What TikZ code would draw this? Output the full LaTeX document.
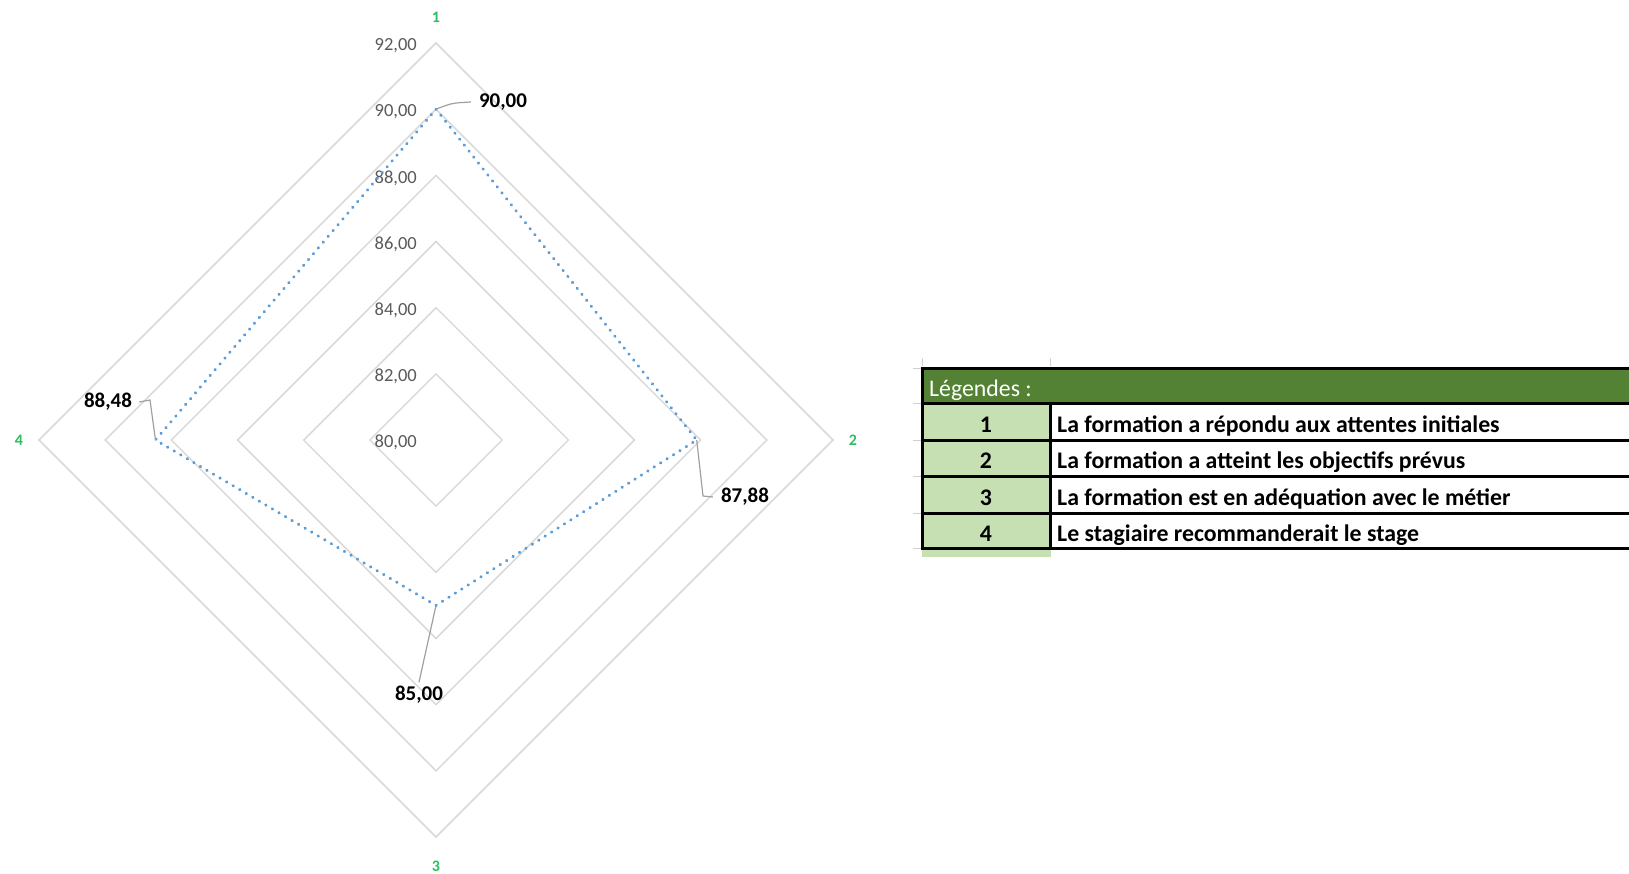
\documentclass[tikz,border=0pt]{standalone}
\usepackage{fontspec}
\setmainfont{Carlito}
\definecolor{gridc}{HTML}{D9D9D9}
\definecolor{seriesc}{HTML}{5B9BD5}
\definecolor{catc}{HTML}{2DBE60}
\definecolor{axlabc}{HTML}{595959}
\definecolor{leadc}{HTML}{A0A0A0}
\definecolor{hdrc}{HTML}{548235}
\definecolor{cellc}{HTML}{C6E0B4}
\definecolor{tickc}{HTML}{D0D0D0}
\tikzset{
  ring/.style={draw=gridc, line width=1.5pt},
  serie/.style={draw=seriesc, line width=3.1pt, line cap=round, dash pattern=on 0.4pt off 7.2pt},
  axlab/.style={anchor=east, inner sep=0pt, text=axlabc, font=\fontsize{18.5}{22}\selectfont},
  datlab/.style={inner sep=0pt, font=\bfseries\fontsize{21}{25}\selectfont},
  catlab/.style={inner sep=0pt, text=catc, font=\bfseries\fontsize{16}{19}\selectfont},
  leader/.style={draw=leadc, line width=1.2pt},
  border/.style={draw=black, line width=3pt},
  tabtxt/.style={inner sep=0pt, font=\bfseries\fontsize{23.8}{28}\selectfont},
  gtick/.style={draw=tickc, line width=1pt}
}
\begin{document}
\begin{tikzpicture}[x=1pt,y=-1pt]
\useasboundingbox (0,0) rectangle (1629,873);
% radar grid
\foreach \k in {1,...,6}{
  \pgfmathsetmacro{\R}{\k*66.16}
  \draw[ring] (436,440-\R) -- (436+\R,440) -- (436,440+\R) -- (436-\R,440) -- cycle;
}
\foreach \v/\k in {80/0,82/1,84/2,86/3,88/4,90/5,92/6}{
  \node[axlab] (ax\v) at (417,{442.5-\k*66.16}) {\v,00};
}
% series
\coordinate (p1) at (436,109.2);
\coordinate (p2) at (696.7,440);
\coordinate (p3) at (436,605.4);
\coordinate (p4) at (155.5,440);
\draw[serie] (p1) -- (p2) -- (p3) -- (p4) -- cycle;
% data labels
\node[datlab] (l1) at (503,102) {90,00};
\node[datlab] (l2) at (745,497) {87,88};
\node[datlab] (l3) at (419,695) {85,00};
\node[datlab] (l4) at (108,402) {88,48};
\draw[leader] (p1) .. controls (452,103) .. ([xshift=-8pt]l1.west);
\draw[leader] (p2) -- (703,496) -- ([xshift=-8pt]l2.west);
\draw[leader] (p3) -- ([yshift=4pt]l3.north);
\draw[leader] ([xshift=7pt]l4.east) -- (150,400) -- (p4);
% category labels
\node[catlab] (c1) at (436,17) {1};
\node[catlab] (c2) at (853,440) {2};
\node[catlab] (c3) at (436,866) {3};
\node[catlab] (c4) at (19,440) {4};
% legend table
\fill[hdrc] (922,368) rectangle (1640,403);
\fill[cellc] (922,403) rectangle (1051,557);
\foreach \y in {368,403,440,476,513,548}{
  \draw[gtick] (913,\y) -- (921,\y);
}
\draw[gtick] (922,358) -- (922,366);
\draw[gtick] (1050,358) -- (1050,366);
\foreach \y in {368,403,440,476,513,548}{
  \draw[border] (920.5,\y) -- (1640,\y);
}
\draw[border] (922,368) -- (922,549.5);
\draw[border] (1050,403) -- (1050,549.5);
\node[tabtxt, anchor=base west, text=white, font=\fontsize{23.8}{28}\selectfont] (hdr) at (929,396) {Légendes :};
\node[tabtxt, anchor=base] (n1) at (986,432) {1};
\node[tabtxt, anchor=base] (n2) at (986,468.5) {2};
\node[tabtxt, anchor=base] (n3) at (986,505) {3};
\node[tabtxt, anchor=base] (n4) at (986,541) {4};
\node[tabtxt, anchor=base west] (t1) at (1057,432) {La formation a répondu aux attentes initiales};
\node[tabtxt, anchor=base west] (t2) at (1057,468.5) {La formation a atteint les objectifs prévus};
\node[tabtxt, anchor=base west] (t3) at (1057,505) {La formation est en adéquation avec le métier};
\node[tabtxt, anchor=base west] (t4) at (1057,541) {Le stagiaire recommanderait le stage};
\end{tikzpicture}
\end{document}
